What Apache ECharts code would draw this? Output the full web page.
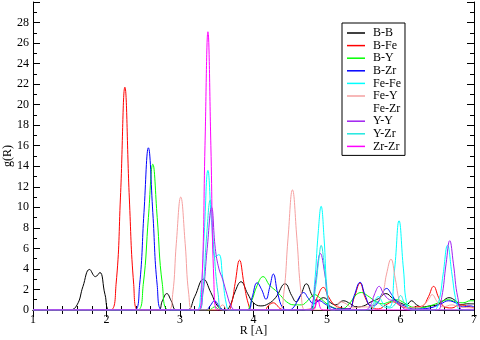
<!DOCTYPE html>
<html>
<head>
<meta charset="utf-8">
<script src="https://cdn.jsdelivr.net/npm/echarts@6/dist/echarts.min.js"></script>
<style>
    html, body { margin: 0; padding: 0; background: #fff; }
    #chart1 { width: 480px; height: 340px; }
</style>
</head>
<body>
<div id="chart1"></div>
<script>
// pair names, in legend order
var names = ['B-B', 'B-Fe', 'B-Y', 'B-Zr', 'Fe-Fe', 'Fe-Y', 'Fe-Zr', 'Y-Y', 'Y-Zr', 'Zr-Zr'];
var colors = ['#000000', '#ff0000', '#00ff00', '#0000ff', '#00ffff', '#f5a0a0', '#ffffff', '#a020f0', '#20e8e0', '#ff00ff'];

var xTicks = [1, 2, 3, 4, 5, 6, 7];
var yTicks = [0, 2, 4, 6, 8, 10, 12, 14, 16, 18, 20, 22, 24, 26, 28];

// g(R), [R, g]
var bb = [[1,0],[1.5,0],[1.6,0.5],[1.68,2.3],[1.77,3.95],[1.85,3.25],[1.91,3.65],[1.98,1.5],[2.05,0],[2.7,0],[2.76,0.9],[2.82,1.6],[2.88,0.9],[2.95,0],[3.1,0],[3.2,1.3],[3.32,3.0],[3.42,1.7],[3.52,0.3],[3.62,0],[3.68,0.4],[3.75,1.8],[3.83,2.75],[3.92,1.6],[4.0,0.7],[4.1,0.4],[4.2,0.6],[4.3,1.2],[4.43,2.55],[4.52,1.4],[4.58,0.8],[4.64,1.4],[4.72,2.55],[4.8,1.4],[4.87,0.9],[4.95,1.2],[5.05,0.7],[5.12,0.5],[5.22,0.9],[5.32,0.6],[5.4,0.3],[5.5,0.4],[5.6,0.8],[5.7,1.1],[5.8,1.6],[5.9,1.1],[6.0,0.7],[6.08,0.5],[6.15,0.9],[6.22,0.5],[6.3,0.3],[6.4,0.4],[6.5,0.5],[6.58,0.9],[6.66,1.2],[6.75,0.9],[6.82,0.5],[6.9,0.6],[7,0.6]];
var bfe = [[1,0],[2.05,0],[2.13,2.5],[2.19,11],[2.25,21.7],[2.31,11],[2.37,2.5],[2.43,0],[3.65,0],[3.7,0.6],[3.75,2.6],[3.81,4.85],[3.87,2.6],[3.93,0.6],[3.98,0],[4.15,0],[4.2,0.4],[4.27,0.7],[4.34,0.3],[4.4,0],[4.8,0.1],[4.87,1.3],[4.95,2.2],[5.02,1.3],[5.1,0.5],[5.2,0.2],[5.3,0.1],[5.37,1.2],[5.45,2.6],[5.52,1.2],[5.6,0.3],[5.7,0.1],[5.8,0.5],[5.9,0.8],[6.0,0.4],[6.1,0.2],[6.2,0.3],[6.3,0.4],[6.38,1.3],[6.45,2.3],[6.52,1.2],[6.6,0.3],[6.7,0.2],[6.8,0.5],[6.9,0.4],[7,0.2]];
var by = [[1,0],[2.42,0],[2.5,2.5],[2.57,9],[2.63,14.2],[2.69,9],[2.76,2.5],[2.85,0],[3.4,0],[3.47,0.3],[3.55,0],[3.9,0],[3.97,0.8],[4.05,2.4],[4.13,3.25],[4.22,2.4],[4.3,1.9],[4.37,1.4],[4.45,0.8],[4.55,0.5],[4.65,0.5],[4.75,1.0],[4.83,1.5],[4.9,1.2],[5.0,0.6],[5.1,0.2],[5.2,0.1],[5.3,0.6],[5.4,1.5],[5.47,1.7],[5.55,1.4],[5.65,0.9],[5.75,0.6],[5.85,0.8],[5.95,1.0],[6.05,0.7],[6.15,0.3],[6.25,0.2],[6.4,0.4],[6.55,0.8],[6.65,1.0],[6.75,0.8],[6.85,0.7],[6.95,0.9],[7,0.9]];
var bzr = [[1,0],[2.38,0],[2.45,2.4],[2.51,9.5],[2.57,15.8],[2.63,9.5],[2.69,2.4],[2.76,0],[3.35,0],[3.41,0.4],[3.47,0.9],[3.53,0.4],[3.6,0],[3.92,0],[3.98,1.2],[4.05,2.65],[4.11,2.0],[4.17,1.05],[4.22,2.2],[4.27,3.5],[4.33,1.6],[4.4,0.2],[4.48,0],[4.55,0.3],[4.62,1.2],[4.68,1.7],[4.75,1.1],[4.82,0.6],[4.9,0.9],[4.97,0.6],[5.05,0.3],[5.15,0.1],[5.3,0.1],[5.37,1.4],[5.45,2.7],[5.52,1.4],[5.6,0.4],[5.68,0.6],[5.75,1.6],[5.81,2.1],[5.88,1.5],[5.95,0.8],[6.05,0.4],[6.2,0.1],[6.4,0.2],[6.55,0.6],[6.65,0.9],[6.75,0.7],[6.85,0.3],[6.95,0.4],[7,0.3]];
var fefe = [[1,0],[3.22,0],[3.28,1.5],[3.33,7.5],[3.38,13.6],[3.43,8.5],[3.48,5.2],[3.53,5.4],[3.58,3.2],[3.63,0.6],[3.68,0],[4.78,0],[4.83,2.5],[4.88,7.5],[4.92,10.1],[4.96,7],[5.0,2],[5.05,0],[5.55,0],[5.62,0.5],[5.7,1.3],[5.77,0.6],[5.85,0.3],[5.92,4],[5.98,8.7],[6.04,4],[6.1,0.3],[6.2,0],[6.45,0],[6.52,0.8],[6.58,3.5],[6.64,6.3],[6.7,3.5],[6.76,0.8],[6.82,0],[7,0]];
var fey = [[1,0],[2.84,0],[2.9,1.5],[2.95,6.5],[3.01,11.0],[3.07,6.5],[3.12,1.5],[3.18,0],[3.5,0],[3.58,0.5],[3.65,0],[4.35,0],[4.41,1.5],[4.47,7],[4.53,11.7],[4.59,7],[4.65,1.5],[4.71,0],[5.1,0],[5.18,0.8],[5.26,0.6],[5.35,0.2],[5.45,0.3],[5.55,0.3],[5.65,0.6],[5.75,1.5],[5.81,3.5],[5.87,4.95],[5.93,3],[5.99,0.8],[6.05,0.3],[6.2,0.2],[6.3,0.4],[6.38,1.0],[6.43,1.5],[6.5,0.8],[6.58,0.3],[6.7,0.5],[6.8,0.3],[7,0.2]];
var fezr = [];
var yy = [[1,0],[3.25,0],[3.31,1.5],[3.37,6],[3.43,10.0],[3.48,6],[3.53,4],[3.58,3],[3.64,1.5],[3.7,0.3],[3.76,0],[4.75,0],[4.8,0.6],[4.85,3],[4.91,5.5],[4.97,3.5],[5.02,0.8],[5.08,0],[5.5,0],[5.58,0.3],[5.65,1.6],[5.71,2.3],[5.77,1.6],[5.85,1.0],[5.92,0.9],[6.0,0.4],[6.1,0],[6.5,0],[6.56,1.2],[6.62,4.5],[6.67,6.75],[6.72,4.5],[6.78,1.2],[6.85,0],[7,0]];
var yzr = [[1,0],[3.25,0],[3.31,2],[3.36,7],[3.41,10.7],[3.46,6],[3.52,1.5],[3.58,0],[4.78,0],[4.84,2],[4.89,5],[4.92,6.3],[4.96,4.5],[5.01,1.2],[5.06,0],[5.6,0],[5.68,0.8],[5.75,0.4],[5.85,0.2],[5.95,0.8],[6.0,1.4],[6.06,0.6],[6.15,0],[7,0]];
var zrzr = [[1,0],[3.25,0],[3.3,3],[3.34,16],[3.38,27.1],[3.42,16],[3.46,3],[3.51,0],[4.8,0],[4.87,1.0],[4.95,0],[7,0]];

var allData = [bb, bfe, by, bzr, fefe, fey, fezr, yy, yzr, zrzr];

var dom = document.getElementById("chart1");
var myChart = echarts.init(dom, null, {renderer: 'canvas'});

var font = 'Liberation Serif';

var series = [];
for (var i = 0; i < names.length; i++) {
    series.push({
        name: names[i],
        type: 'line',
        data: allData[i],
        smooth: 0.45,
        showSymbol: false,
        symbol: 'none',
        lineStyle: {color: colors[i], width: 1},
        itemStyle: {color: colors[i]},
        animation: false
    });
}

var tickStyle = {show: true, inside: true, length: 7, lineStyle: {color: '#000'}};

option = {
    backgroundColor: '#fff',
    animation: false,
    grid: {left: 33, right: 6, top: 2, bottom: 30, show: false, outerBoundsMode: 'none', containLabel: false},
    legend: {
        orient: 'vertical',
        left: 342,
        top: 23,
        data: names,
        icon: 'rect',
        itemWidth: 18,
        itemHeight: 1.5,
        itemGap: 0.6,
        padding: [4, 4, 3, 5],
        borderColor: '#000',
        borderWidth: 1,
        selectedMode: false,
        textStyle: {fontFamily: font, fontSize: 12, lineHeight: 12, color: '#000', padding: [0, 0, 0, 3]}
    },
    xAxis: [
        {
            type: 'value',
            min: 1, max: 7, interval: 1,
            name: 'R [A]',
            nameLocation: 'middle',
            nameGap: 15,
            nameMoveOverlap: false,
            nameTextStyle: {fontFamily: font, fontSize: 12, color: '#000'},
            axisLine: {lineStyle: {color: '#000'}},
            axisTick: tickStyle,
            minorTick: {show: true, splitNumber: 5, length: 4, lineStyle: {color: '#000'}},
            axisLabel: {fontFamily: font, fontSize: 12, color: '#000', margin: 4},
            splitLine: {show: false}
        },
        {
            type: 'value',
            position: 'top',
            min: 1, max: 7, interval: 1,
            axisLine: {show: true, lineStyle: {color: '#000'}},
            axisTick: tickStyle,
            minorTick: {show: true, splitNumber: 5, length: 4, lineStyle: {color: '#000'}},
            axisLabel: {show: false},
            splitLine: {show: false}
        }
    ],
    yAxis: [
        {
            type: 'value',
            min: 0, max: 30, interval: 2,
            name: 'g(R)',
            nameLocation: 'middle',
            nameGap: 19,
            nameMoveOverlap: false,
            nameTextStyle: {fontFamily: font, fontSize: 12, color: '#000'},
            axisLine: {show: true, lineStyle: {color: '#000'}},
            axisTick: tickStyle,
            minorTick: {show: true, splitNumber: 2, length: 4, lineStyle: {color: '#000'}},
            axisLabel: {
                fontFamily: font, fontSize: 12, color: '#000', margin: 4,
                formatter: function (v) { return yTicks.indexOf(v) >= 0 ? String(v) : ''; }
            },
            splitLine: {show: false}
        },
        {
            type: 'value',
            position: 'right',
            min: 0, max: 30, interval: 2,
            axisLine: {show: true, lineStyle: {color: '#000'}},
            axisTick: tickStyle,
            minorTick: {show: true, splitNumber: 2, length: 4, lineStyle: {color: '#000'}},
            axisLabel: {show: false},
            splitLine: {show: false}
        }
    ],
    series: series
};

if (option && typeof option === "object") {
    myChart.setOption(option, true);
}
</script>
</body>
</html>
